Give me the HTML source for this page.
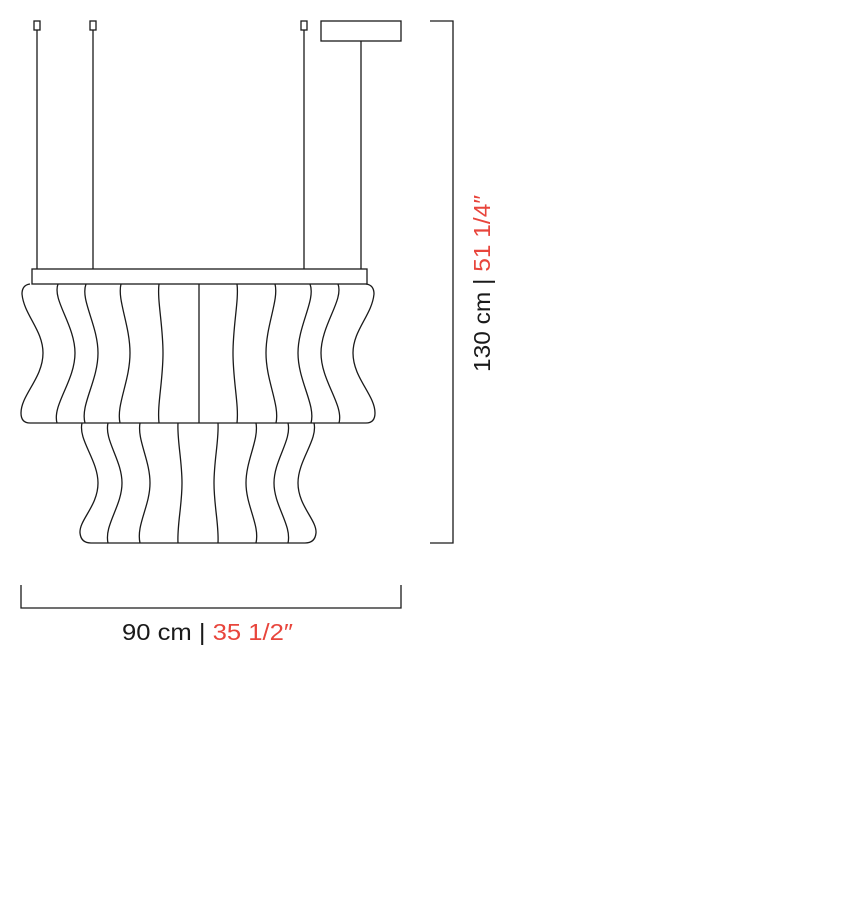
<!DOCTYPE html>
<html><head><meta charset="utf-8"><style>
html,body{margin:0;padding:0;background:#fff;}
svg{display:block;}
text{font-family:"Liberation Sans",sans-serif;font-size:23px;}
</style></head><body>
<svg width="856" height="900" viewBox="0 0 856 900" xmlns="http://www.w3.org/2000/svg">
<g fill="none" stroke="#1a1a1a" stroke-width="1.3">
<rect x="34" y="21" width="6" height="9"/>
<rect x="90" y="21" width="6" height="9"/>
<rect x="301" y="21" width="6" height="9"/>
<rect x="321" y="21" width="80" height="20"/>
<line x1="37" y1="30" x2="37" y2="269"/>
<line x1="93" y1="30" x2="93" y2="269"/>
<line x1="304" y1="30" x2="304" y2="269"/>
<line x1="361" y1="41" x2="361" y2="269"/>
<rect x="32" y="269" width="335" height="15"/>
<path d="M30 284 Q22 285 22 294 C24 315 43 330 43 353 C43 378 21 395 21 413 Q21 423 30 423 L366 423 Q375 423 375 413 C375 395 353 378 353 353 C353 330 372 315 374 294 Q374 285 366 284"/>
<path d="M58 284 C52 300 75 325 75 353 C75 381 52 405 57 423"/>
<path d="M86 284 C80 300 98 325 98 353 C98 381 80 405 85 423"/>
<path d="M121 284 C117 300 130 325 130 353 C130 381 116 405 120 423"/>
<path d="M159 284 C157 300 163 325 163 353 C163 381 157 405 159 423"/>
<line x1="199" y1="284" x2="199" y2="423"/>
<path d="M237 284 C239 300 233 325 233 353 C233 381 239 405 237 423"/>
<path d="M275 284 C279 300 266 325 266 353 C266 381 280 405 276 423"/>
<path d="M310 284 C316 300 298 325 298 353 C298 381 316 405 311 423"/>
<path d="M338 284 C344 300 321 325 321 353 C321 381 344 405 339 423"/>
<path d="M82 423 C78 440 98 460 98 483 C98 506 79 520 80 533 Q81 543 91 543 L305 543 Q315 543 316 533 C317 520 298 506 298 483 C298 460 318 440 314 423"/>
<path d="M108 423 C104 440 122 460 122 483 C122 506 104 525 108 543"/>
<path d="M140 423 C137 440 150 460 150 483 C150 506 136 525 140 543"/>
<path d="M178 423 C177 440 182 460 182 483 C182 506 177 525 178 543"/>
<path d="M218 423 C219 440 214 460 214 483 C214 506 219 525 218 543"/>
<path d="M256 423 C259 440 246 460 246 483 C246 506 260 525 256 543"/>
<path d="M288 423 C292 440 274 460 274 483 C274 506 292 525 288 543"/>
<polyline points="430,21 453,21 453,543 430,543"/>
<polyline points="21,585 21,608 401,608 401,585"/>
</g>
<text x="122" y="640" fill="#1a1a1a" textLength="171" lengthAdjust="spacingAndGlyphs">90 cm | <tspan fill="#e8453c">35 1/2″</tspan></text>
<text transform="translate(490,372) rotate(-90)" fill="#1a1a1a" textLength="177" lengthAdjust="spacingAndGlyphs">130 cm | <tspan fill="#e8453c">51 1/4″</tspan></text>
</svg>
</body></html>
